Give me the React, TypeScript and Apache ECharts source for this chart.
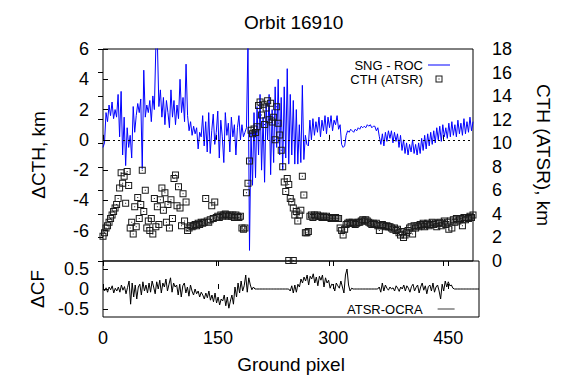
import React, { useEffect, useRef } from "react";
import * as echarts from "echarts";

const FONT = "'Liberation Sans', Arial, Helvetica, sans-serif";

// Ground pixels are sampled every 2 pixels: 0, 2, 4, ... 490
const pixelStep = 2;

// SNG - ROC, ΔCTH in km (left axis)
const sngRoc = [
  -0.5, -0.2, 1.8, 1.2, 2.3, 1.6, 2.5, 1.4, 2.0, 1.5,
  3.0, 0.2, 3.2, -1.0, 1.5, -1.7, 0.8, -0.5, 0.3, -1.2,
  2.2, 0.5, 1.6, 2.4, 1.8, 2.7, -1.9, 4.6, 1.5, 2.3,
  1.8, 2.6, 1.2, 2.9, 2.0, 6.2, 6.5, 2.2, 3.3, 1.5,
  2.8, 1.0, 2.6, 1.8, 0.8, 3.3, 1.5, 2.6, 1.0, 2.3,
  1.4, 4.0, 1.8, 2.8, 1.2, 5.0, 1.6, 0.6, 1.2, 0.3,
  0.9, 0.4, 0.8, -0.6, 0.5, 0.2, 1.6, -0.4, 1.2, -0.8,
  1.8, -0.9, 0.6, 1.7, -0.3, 0.5, 1.9, -1.2, 1.3, 0.2,
  -1.5, 1.8, 0.3, 1.1, -0.8, 1.5, 0.2, 1.0, -1.0, 0.8,
  1.6, 0.0, 1.0, 0.2, 0.5, 0.8, 6.5, -7.3, 0.5, -3.0,
  1.8, -2.5, 2.2, -1.0, 3.0, -2.0, 1.5, -2.8, 2.4, 0.0,
  3.0, -2.3, 2.0, -1.5, 3.5, -0.5, 4.0, -1.0, 2.8, -2.0,
  3.5, -1.2, 4.7, -1.6, 3.0, -1.0, 2.6, -1.6, 2.0, -1.6,
  1.0, -1.5, 3.6, -1.3, 0.3, -0.3, -0.4, 1.3, 0.0, 1.4,
  0.3, 1.2, 0.5, 1.5, 0.2, 1.3, 0.6, 1.6, 0.4, 1.5,
  0.8, 1.6, 0.6, 1.3, 1.0, 1.6, 0.7, 1.0, -0.3, -0.5,
  -0.4, 0.3, 0.6, 0.5, 0.7, 0.6, 0.5, 0.7, 0.6, 0.8,
  0.7, 0.9, 0.8, 0.9, 0.8, 1.0, 0.9, 1.0, 0.8, 0.9,
  0.9, 0.6, 0.8, 0.2, -0.3, 0.4, -0.4, 0.5, -0.1, 0.6,
  0.1, 0.6, -0.2, 0.5, -0.1, 0.4, -0.5, 0.3, -0.7, 0.0,
  -0.9, -0.2, -1.0, -0.3, -0.8, 0.0, -0.9, -0.3, -1.0, -0.2,
  -0.9, 0.1, -0.7, 0.3, -0.6, 0.4, -0.4, 0.5, -0.3, 0.6,
  -0.2, 0.8, 0.0, 0.9, -0.1, 1.0, 0.2, 0.8, 0.1, 1.1,
  0.2, 1.2, 0.3, 1.0, 0.2, 1.3, 0.4, 1.1, 0.3, 1.4,
  0.4, 1.2, 0.5, 1.5, 0.6, 1.2,
];

// CTH (ATSR) in km (right axis)
const cthAtsr = [
  2.1, 2.4, 2.8, 3.0, 3.3, 3.6, 3.9, 4.2, 4.5, 4.8,
  5.3, 6.2, 7.5, 6.6, 7.2, 4.9, 7.6, 6.4, 2.8, 3.3,
  2.3, 4.6, 2.9, 5.4, 3.6, 4.8, 7.7, 4.2, 6.0, 2.8,
  3.4, 2.6, 3.6, 2.3, 5.3, 2.9, 4.6, 3.1, 5.2, 6.2,
  4.3, 5.8, 3.3, 4.8, 2.8, 5.2, 3.6, 7.0, 7.3, 4.7,
  6.3, 4.5, 3.0, 5.7, 3.4, 5.0, 2.6, 2.8, 3.0, 2.9,
  3.0, 3.1, 3.0, 3.2, 3.1, 3.3, 3.2, 3.3, 5.3, 3.4,
  3.3, 3.5, 4.7, 3.6, 5.0, 3.7, 3.8, 3.7, 3.9, 3.8,
  3.9, 4.0, 3.9, 3.8, 3.9, 3.8, 3.9, 3.7, 3.9, 3.8,
  3.7, 3.8, 2.8, 2.7, 2.8, 5.8, 6.6, 8.5, 11.1, 10.8,
  11.2, 10.9, 11.4, 13.2, 13.5, 12.4, 13.3, 11.6, 13.0, 13.6,
  12.0, 13.4, 11.8, 12.2, 10.3, 13.1, 11.7, 10.7, 9.4, 8.0,
  6.7, 5.9, 7.0, 6.5, 5.3, 5.0, 4.5, 3.9, 4.2, 3.4,
  3.9, 4.3, 7.2, 5.6, 2.4, 2.4, 2.5, 3.8, 3.9, 3.7,
  3.9, 3.8, 3.9, 3.8, 3.8, 3.7, 3.8, 3.7, 3.8, 3.7,
  3.7, 3.6, 3.7, 3.6, 3.7, 3.6, 3.6, 2.8, 2.6, 2.2,
  2.7, 3.1, 3.2, 3.3, 3.2, 3.3, 3.2, 3.1, 3.2, 3.3,
  3.3, 3.4, 3.5, 3.4, 3.5, 3.4, 3.3, 3.2, 3.1, 3.2,
  3.1, 3.2, 3.0, 2.6, 3.0, 3.1, 3.0, 2.9, 3.0, 2.9,
  2.9, 2.8, 2.7, 2.8, 2.6, 2.7, 2.4, 2.2, 2.5, 2.0,
  2.2, 2.4, 2.6, 2.8, 2.9, 2.3, 3.0, 2.8, 3.0, 2.9,
  3.1, 3.0, 3.2, 2.9, 3.1, 3.2, 3.0, 3.1, 3.3, 3.1,
  3.2, 2.9, 3.2, 3.3, 3.0, 3.2, 3.4, 3.1, 3.3, 2.7,
  3.4, 2.8, 3.5, 3.3, 3.6, 3.4, 3.5, 3.6, 3.0, 3.7,
  3.5, 3.7, 3.6, 3.8, 3.7, 3.9,
];
// two extra low retrievals near the bottom axis
const cthExtraPixels = [246, 252];
const cthExtraValues = [0.05, 0.05];

// ATSR-OCRA, ΔCF
const cfDiff = [
  0.0, -0.05, 0.03, -0.08, 0.05, -0.02, 0.08, -0.1, 0.02, -0.05,
  0.05, -0.08, 0.1, -0.03, 0.06, -0.12, 0.04, 0.2, -0.38, 0.15,
  -0.2, 0.1, -0.25, 0.05, 0.12, -0.15, 0.18, -0.05, 0.1, -0.1,
  0.15, -0.08, 0.2, 0.05, -0.12, 0.18, 0.0, 0.22, -0.1, 0.15,
  0.05, 0.25, -0.05, 0.12, 0.28, -0.08, 0.15, 0.05, 0.1, -0.15,
  0.12, -0.2, 0.08, 0.15, -0.1, 0.05, -0.18, 0.1, -0.05, -0.15,
  0.0, -0.12, -0.05, -0.2, -0.08, -0.15, -0.25, -0.1, -0.22, -0.05,
  -0.28, -0.15, -0.32, -0.1, -0.35, -0.2, -0.4, -0.25, -0.3, -0.15,
  -0.42, -0.2, -0.48, -0.3, -0.15, -0.38, 0.05, -0.2, 0.15, -0.1,
  0.2, -0.05, 0.08, 0.35, -0.08, 0.28, 0.1, -0.02, 0.05, 0.0,
  0, 0, 0, 0, 0, 0, 0, 0, 0, 0,
  0, 0, 0, 0, 0, 0, 0, 0, 0, 0,
  0.0, 0.0, -0.05, 0.08, -0.1, 0.1, -0.08, 0.12, 0.05, 0.25,
  0.15, 0.3, 0.2, 0.35, 0.1, 0.32, 0.25, 0.38, 0.15, 0.3,
  0.08, 0.32, 0.22, 0.35, 0.05, 0.28, 0.15, 0.22, 0.02, 0.12,
  0.1, -0.05, 0.15, 0.08, 0.02, 0.2, 0.05, -0.1, 0.35, 0.5,
  0.1, -0.05, 0.02, 0, 0, 0, 0, 0, 0, 0,
  0, 0, 0, 0, 0, 0, 0, 0, 0, 0,
  0.05, -0.08, 0.15, -0.05, 0.1, 0.02, -0.03, 0.05, 0.0, 0.03,
  -0.05, 0.08, 0.02, -0.06, 0.05, 0.0, 0.1, -0.05, 0.08, 0.02,
  -0.08, 0.06, 0.12, -0.05, 0.04, 0.1, -0.1, 0.05, 0.15, -0.03,
  0.08, -0.12, 0.06, 0.1, -0.05, 0.15, -0.08, 0.05, 0.1, -0.05,
  -0.25, 0.12, -0.05, 0.2, 0.05, 0.18, 0.08, 0.1, 0.02, 0.0,
  0, 0, 0, 0, 0, 0, 0, 0, 0, 0,
  0, 0, 0, 0, 0, 0,
];

const xTicks = [0, 150, 300, 450];
const leftTicks = [-6, -4, -2, 0, 2, 4, 6];
const rightTicks = [0, 2, 4, 6, 8, 10, 12, 14, 16, 18];
const cfTicks = [-0.5, 0, 0.5];

const BOX_DOT = "path://M0,0H7V7H0Z M1,1V6H6V1Z M3,3H4V4H3Z";
const LINE_ICON = "path://M0,0H22V1H0Z";

export default function App() {
  const ref = useRef<HTMLDivElement>(null);

  useEffect(() => {
    document.body.style.margin = "0";
    if (!ref.current) return;
    const chart = echarts.init(ref.current, undefined, { renderer: "svg" });

    const tickFont = { fontFamily: FONT, fontSize: 18, color: "#000" };
    const nameFont = { fontFamily: FONT, fontSize: 19, color: "#000" };
    const inTick = (vals: number[]) => ({
      show: true,
      inside: true,
      length: 5,
      customValues: vals,
      lineStyle: { color: "#000", width: 1 },
    });

    const cthData = cthAtsr.map((v, i) => [i * pixelStep, v]);
    cthExtraPixels.forEach((p, i) => cthData.push([p, cthExtraValues[i]]));

    const option: any = {
      animation: false,
      backgroundColor: "#fff",
      textStyle: { fontFamily: FONT },
      title: {
        text: "Orbit 16910",
        left: 239,
        top: 8,
        textStyle: { fontFamily: FONT, fontSize: 19, fontWeight: "normal", color: "#000" },
      },
      grid: [
        { left: 103, top: 49, width: 376, height: 212, show: true, borderColor: "#000", borderWidth: 1, backgroundColor: "transparent" },
        { left: 103, top: 261, width: 376, height: 56, show: true, borderColor: "#000", borderWidth: 1, backgroundColor: "transparent" },
      ],
      legend: [
        {
          data: [
            { name: "SNG - ROC", icon: LINE_ICON },
            { name: "CTH (ATSR)", icon: BOX_DOT },
          ],
          orient: "vertical",
          right: 106,
          top: 53,
          align: "right",
          itemWidth: 22,
          itemHeight: 7,
          itemGap: 0,
          selectedMode: false,
          textStyle: { fontFamily: FONT, fontSize: 13, color: "#000", lineHeight: 14 },
        },
        {
          data: [{ name: "ATSR-OCRA", icon: LINE_ICON }],
          orient: "vertical",
          left: 342,
          top: 297,
          align: "right",
          itemWidth: 17,
          itemHeight: 7,
          selectedMode: false,
          textStyle: { fontFamily: FONT, fontSize: 13, color: "#000", lineHeight: 14, padding: [0, 10, 0, 0] },
        },
      ],
      xAxis: [
        {
          gridIndex: 0, type: "value", position: "bottom", min: 0, max: 490,
          axisLine: { show: false }, axisTick: inTick(xTicks), axisLabel: { show: false }, splitLine: { show: false },
        },
        {
          gridIndex: 0, type: "value", position: "top", min: 0, max: 490,
          axisLine: { show: false }, axisTick: inTick(xTicks), axisLabel: { show: false }, splitLine: { show: false },
        },
        {
          gridIndex: 1, type: "value", position: "bottom", min: 0, max: 490,
          axisLine: { show: false }, axisTick: inTick(xTicks),
          axisLabel: { show: true, customValues: xTicks, margin: 12, ...tickFont },
          splitLine: { show: false },
          name: "Ground pixel", nameLocation: "middle", nameGap: 38, nameTextStyle: nameFont,
        },
        {
          gridIndex: 1, type: "value", position: "top", min: 0, max: 490,
          axisLine: { show: false }, axisTick: inTick(xTicks), axisLabel: { show: false }, splitLine: { show: false },
        },
      ],
      yAxis: [
        {
          gridIndex: 0, type: "value", position: "left", min: -8, max: 6, interval: 2,
          axisLine: { show: false }, axisTick: inTick(leftTicks),
          axisLabel: { show: true, customValues: leftTicks, margin: 14, ...tickFont },
          splitLine: { show: false },
          name: "ΔCTH, km", nameLocation: "middle", nameGap: 55, nameRotate: 90, nameTextStyle: nameFont,
        },
        {
          gridIndex: 0, type: "value", position: "right", min: 0, max: 18, interval: 2,
          axisLine: { show: false }, axisTick: inTick(rightTicks),
          axisLabel: { show: true, customValues: rightTicks, margin: 19, ...tickFont },
          splitLine: { show: false },
          name: "CTH (ATSR), km", nameLocation: "middle", nameGap: 61, nameRotate: -90, nameTextStyle: nameFont,
        },
        {
          gridIndex: 1, type: "value", position: "left", min: -0.7, max: 0.7,
          axisLine: { show: false }, axisTick: inTick(cfTicks),
          axisLabel: { show: true, customValues: cfTicks, margin: 14, ...tickFont },
          splitLine: { show: false },
          name: "ΔCF", nameLocation: "middle", nameGap: 55, nameRotate: 90, nameTextStyle: nameFont,
        },
      ],
      series: [
        {
          name: "SNG - ROC",
          type: "line",
          xAxisIndex: 0,
          yAxisIndex: 0,
          data: sngRoc.map((v, i) => [i * pixelStep, v]),
          symbol: "none",
          showSymbol: false,
          color: "#0000ff",
          lineStyle: { color: "#0000ff", width: 1 },
          clip: true,
          z: 2,
          markLine: {
            silent: true,
            symbol: ["none", "none"],
            label: { show: false },
            lineStyle: { color: "#000", width: 1, type: [2, 3] },
            data: [{ yAxis: 0 }],
          },
        },
        {
          name: "CTH (ATSR)",
          type: "scatter",
          xAxisIndex: 0,
          yAxisIndex: 1,
          data: cthData,
          symbol: BOX_DOT,
          symbolSize: 7,
          color: "#1a1a1a",
          itemStyle: { color: "#1a1a1a", opacity: 1 },
          clip: false,
          z: 3,
        },
        {
          name: "ATSR-OCRA",
          type: "line",
          xAxisIndex: 2,
          yAxisIndex: 2,
          data: cfDiff.map((v, i) => [i * pixelStep, v]),
          symbol: "none",
          showSymbol: false,
          color: "#000",
          lineStyle: { color: "#000", width: 1 },
          z: 2,
        },
      ],
    };

    chart.setOption(option);
    return () => chart.dispose();
  }, []);

  return <div ref={ref} style={{ width: 561, height: 376 }} />;
}
